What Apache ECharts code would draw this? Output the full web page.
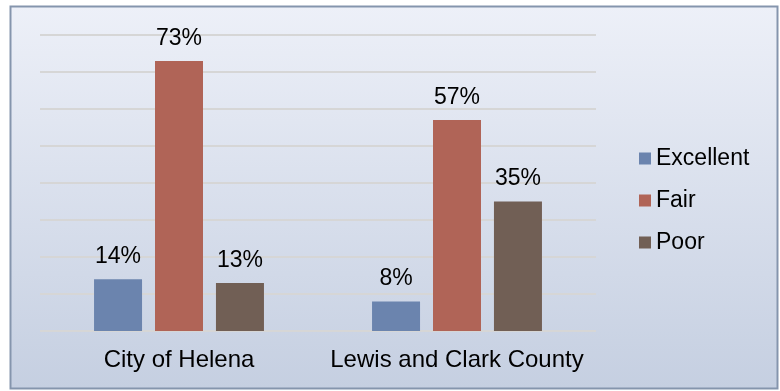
<!DOCTYPE html>
<html>
<head>
<meta charset="utf-8">
<script src="https://cdn.jsdelivr.net/npm/echarts@6/dist/echarts.min.js"></script>
<style>
  html, body { margin: 0; padding: 0; background: #ffffff; }
  #chart { width: 780px; height: 391px; }
</style>
</head>
<body>
<div id="chart"></div>
<script>
// Road condition ratings by jurisdiction (percent of respondents)
const categories = ['City of Helena', 'Lewis and Clark County'];
const seriesNames = ['Excellent', 'Fair', 'Poor'];
const excellent = [14, 8];
const fair = [73, 57];
const poor = [13, 35];
const colors = ['#6b84ae', '#b06457', '#715f55'];

const values = [excellent, fair, poor];
const font = '"Liberation Sans", Arial, sans-serif';
const fontSize = 23;

const chart = echarts.init(document.getElementById('chart'), null, { renderer: 'canvas' });

chart.setOption({
  animation: false,
  graphic: [{
    type: 'rect',
    z: -10,
    shape: { x: 10.5, y: 6.5, width: 767, height: 382 },
    style: {
      fill: {
        type: 'linear', x: 0, y: 0, x2: 0, y2: 1,
        colorStops: [
          { offset: 0, color: '#edf0f8' },
          { offset: 1, color: '#c5cfe1' }
        ]
      },
      stroke: '#8595ad',
      lineWidth: 2
    }
  }],
  grid: { left: 40, right: 184, top: 35, bottom: 60 },
  legend: {
    orient: 'vertical',
    left: 634,
    top: 142,
    itemWidth: 12,
    itemHeight: 12,
    itemGap: 19,
    icon: 'rect',
    textStyle: { fontFamily: font, fontSize: fontSize, color: '#000' },
    data: seriesNames
  },
  xAxis: {
    type: 'category',
    data: categories,
    axisLine: { show: false },
    axisTick: { show: false },
    axisLabel: { interval: 0, fontFamily: font, fontSize: 24, color: '#000', margin: 17 }
  },
  yAxis: {
    type: 'value',
    min: 0,
    max: 80,
    interval: 10,
    axisLabel: { show: false },
    axisLine: { show: false },
    axisTick: { show: false },
    splitLine: { lineStyle: { color: '#d6d6d6', width: 2 } }
  },
  series: seriesNames.map((name, i) => ({
    name: name,
    type: 'bar',
    data: values[i],
    barWidth: 48,
    barGap: '27%',
    itemStyle: { color: colors[i] },
    label: {
      show: true,
      position: 'top',
      distance: 11,
      formatter: '{c}%',
      fontFamily: font,
      fontSize: fontSize,
      color: '#000'
    }
  }))
});
</script>
</body>
</html>
